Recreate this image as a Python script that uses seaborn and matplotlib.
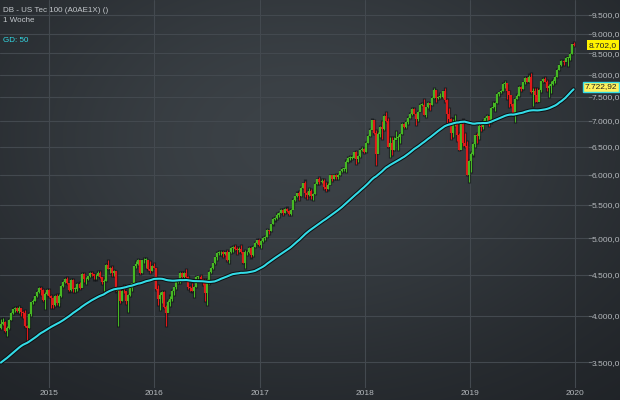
import numpy as np
import pandas as pd
import matplotlib
matplotlib.use("Agg")
import matplotlib.pyplot as plt
import matplotlib.dates as mdates
import matplotlib.ticker as mticker
import matplotlib.transforms as mtransforms
import matplotlib.patheffects as pe
import seaborn as sns

# ---------------- data (weekly candles) ----------------
title_text = "DB - US Tec 100 (A0AE1X) ()"
period_text = "1 Woche"
ma_text = "GD: 50"
first_week = "2014-07-18"
ma_window = 50
ma_last_label = 7722.92

# weekly closes before the visible window (feed the 50-week average)
pre_close = [3120, 3070, 3110, 3070, 3120, 3150, 3200, 3210, 3200, 3230, 3330, 3370,
             3360, 3370, 3420, 3420, 3480, 3480, 3440, 3530, 3590, 3560, 3580, 3600,
             3500, 3510, 3560, 3640, 3640, 3670, 3700, 3610, 3620, 3550, 3500, 3420,
             3550, 3520, 3560, 3520, 3600, 3640, 3720, 3780, 3750, 3810, 3820, 3880, 3860]

close_2014 = [3910, 3930, 3830, 3860, 3954, 4030, 4083, 4090, 4060, 4090, 4040, 4030,
              3880, 3860, 4020, 4158, 4180, 4230, 4280, 4337, 4310, 4190, 4260, 4310]
high_2014 = [3960, 3970, 3940, 3880, 3960, 4040, 4085, 4100, 4100, 4110, 4095, 4060,
             4070, 3900, 4030, 4160, 4200, 4240, 4300, 4345, 4350, 4320, 4280, 4320]
low_2014 = [3850, 3900, 3820, 3780, 3850, 3950, 4020, 4050, 4050, 4030, 4000, 3970,
            3870, 3700, 3860, 4000, 4140, 4170, 4220, 4270, 4250, 4170, 4080, 4250]

close_2015 = [4230, 4210, 4130, 4240, 4151, 4230, 4360, 4410, 4441, 4390, 4310, 4430, 4320,
              4320, 4380, 4330, 4510, 4440, 4450, 4480, 4530, 4509, 4480, 4490, 4530, 4470,
              4410, 4420, 4630, 4580, 4588, 4530, 4550, 4300, 4320, 4180, 4300, 4290, 4180,
              4250, 4330, 4390, 4610, 4648, 4700, 4520, 4690, 4700, 4700, 4580, 4550, 4620]
high_2015 = [4320, 4250, 4220, 4250, 4260, 4260, 4365, 4420, 4460, 4470, 4400, 4440, 4450,
             4350, 4390, 4410, 4520, 4520, 4470, 4490, 4540, 4540, 4510, 4510, 4550, 4550,
             4470, 4440, 4640, 4690, 4600, 4610, 4560, 4550, 4330, 4340, 4310, 4370, 4300,
             4260, 4360, 4400, 4620, 4680, 4710, 4700, 4700, 4720, 4720, 4700, 4680, 4630]
low_2015 = [4220, 4090, 4090, 4120, 4130, 4120, 4220, 4340, 4400, 4380, 4290, 4300, 4280,
            4280, 4300, 4320, 4340, 4410, 4380, 4430, 4470, 4490, 4440, 4440, 4480, 4460,
            4380, 4300, 4420, 4570, 4520, 4490, 4480, 4290, 3880, 4150, 4170, 4270, 4140,
            4050, 4230, 4300, 4370, 4590, 4630, 4510, 4520, 4660, 4590, 4560, 4520, 4550]

close_2016 = [4593, 4320, 4200, 4250, 4280, 4100, 4030, 4160, 4200, 4300, 4340, 4420, 4420,
              4530, 4470, 4520, 4470, 4341, 4330, 4300, 4350, 4470, 4470, 4440, 4400, 4270,
              4430, 4540, 4590, 4650, 4731, 4790, 4800, 4810, 4780, 4800, 4690, 4800, 4860,
              4875, 4850, 4830, 4850, 4800, 4660, 4800, 4800, 4860, 4760, 4880, 4930, 4970, 4900]
high_2016 = [4660, 4590, 4370, 4280, 4300, 4300, 4130, 4190, 4240, 4310, 4350, 4430, 4440,
             4540, 4540, 4540, 4580, 4480, 4360, 4390, 4360, 4480, 4490, 4500, 4440, 4440,
             4440, 4550, 4600, 4660, 4740, 4800, 4820, 4820, 4820, 4810, 4830, 4810, 4880,
             4890, 4900, 4880, 4870, 4900, 4800, 4830, 4820, 4870, 4870, 4890, 4940, 4980, 4990]
low_2016 = [4590, 4310, 4130, 4070, 4150, 4090, 3880, 4050, 4120, 4180, 4250, 4320, 4390,
            4400, 4450, 4450, 4450, 4320, 4300, 4290, 4220, 4340, 4440, 4420, 4370, 4180,
            4130, 4380, 4530, 4580, 4640, 4700, 4770, 4770, 4740, 4760, 4680, 4660, 4790,
            4810, 4830, 4780, 4800, 4790, 4650, 4590, 4760, 4790, 4730, 4750, 4870, 4920, 4890]

close_2017 = [4960, 5000, 5010, 5120, 5100, 5200, 5290, 5300, 5350, 5380, 5420, 5380, 5436,
              5410, 5360, 5420, 5583, 5640, 5690, 5650, 5780, 5850, 5700, 5660, 5730, 5647,
              5680, 5840, 5920, 5880, 5900, 5790, 5760, 5830, 5990, 5930, 5990, 5960, 6000,
              6060, 6100, 6100, 6230, 6300, 6300, 6300, 6400, 6280, 6330, 6440, 6460, 6397]
high_2017 = [4970, 5010, 5030, 5130, 5120, 5210, 5300, 5310, 5380, 5390, 5430, 5440, 5450,
             5460, 5420, 5430, 5600, 5650, 5700, 5720, 5790, 5860, 5900, 5720, 5770, 5760,
             5700, 5850, 5930, 5960, 5920, 5920, 5870, 5860, 6000, 5990, 6000, 6010, 6010,
             6070, 6110, 6120, 6250, 6320, 6330, 6330, 6410, 6420, 6340, 6450, 6490, 6470]
low_2017 = [4860, 4950, 4980, 5010, 5060, 5100, 5200, 5260, 5290, 5320, 5370, 5340, 5370,
            5390, 5350, 5340, 5450, 5570, 5630, 5580, 5650, 5780, 5620, 5600, 5650, 5600,
            5580, 5670, 5840, 5840, 5860, 5760, 5730, 5750, 5840, 5900, 5930, 5930, 5920,
            6000, 6050, 6060, 6040, 6230, 6250, 6270, 6290, 6180, 6220, 6320, 6430, 6390]

close_2018 = [6580, 6710, 6830, 7020, 6760, 6360, 6750, 6890, 6850, 7110, 7010, 6500, 6581,
              6450, 6630, 6670, 6680, 6750, 6940, 6890, 6990, 7070, 7140, 7240, 7150, 7040,
              7190, 7340, 7340, 7130, 7280, 7370, 7330, 7480, 7651, 7470, 7510, 7510, 7630,
              7440, 7140, 7040, 6770, 6930, 6990, 6730, 6450, 6950, 6570, 6520, 6000, 6240]
high_2018 = [6590, 6720, 6850, 7030, 7020, 6820, 6790, 6900, 7000, 7120, 7190, 7070, 6680,
             6680, 6690, 6800, 6720, 6770, 6960, 6960, 7000, 7090, 7170, 7260, 7270, 7170,
             7200, 7350, 7380, 7450, 7290, 7390, 7380, 7490, 7690, 7660, 7530, 7590, 7640,
             7700, 7450, 7260, 7060, 7050, 7120, 6970, 6760, 6960, 7030, 6760, 6600, 6260]
low_2018 = [6400, 6570, 6700, 6840, 6750, 6170, 6390, 6690, 6650, 6820, 6990, 6490, 6310,
            6350, 6440, 6640, 6440, 6570, 6750, 6860, 6860, 6950, 7070, 7120, 7140, 6930,
            7010, 7200, 7300, 7120, 7080, 7270, 7230, 7330, 7480, 7400, 7450, 7480, 7480,
            7400, 6920, 6980, 6640, 6680, 6900, 6610, 6440, 6460, 6520, 6490, 5990, 5880]

close_2019 = [6370, 6560, 6720, 6710, 6910, 6890, 7010, 7060, 7100, 6960, 7270, 7290, 7378,
              7570, 7600, 7640, 7780, 7800, 7640, 7540, 7360, 7127, 7460, 7530, 7720, 7671,
              7830, 7930, 7830, 7940, 7610, 7640, 7550, 7400, 7660, 7850, 7900, 7830, 7690,
              7740, 7780, 7860, 7950, 8110, 8220, 8320, 8300, 8400, 8400, 8490, 8730, 8702]
high_2019 = [6410, 6580, 6730, 6760, 6940, 6980, 7020, 7080, 7130, 7110, 7280, 7390, 7390,
             7580, 7610, 7650, 7800, 7850, 7760, 7630, 7530, 7380, 7470, 7570, 7740, 7730,
             7840, 7940, 7950, 8000, 8030, 7700, 7690, 7690, 7680, 7860, 7920, 7940, 7880,
             7780, 7850, 7900, 7960, 8120, 8230, 8330, 8340, 8420, 8420, 8510, 8740, 8780]
low_2019 = [6050, 6340, 6500, 6570, 6640, 6810, 6850, 6980, 7010, 6900, 6960, 7270, 7200,
            7370, 7520, 7580, 7640, 7700, 7450, 7280, 7310, 7120, 6980, 7450, 7530, 7630,
            7680, 7790, 7820, 7830, 7590, 7300, 7400, 7390, 7420, 7600, 7840, 7820, 7640,
            7500, 7580, 7760, 7810, 7950, 8100, 8200, 8220, 8310, 8200, 8340, 8490, 8690]

y_ticks = [3500, 4000, 4500, 5000, 5500, 6000, 6500, 7000, 7500, 8000, 8500, 9000, 9500]
x_tick_years = [2015, 2016, 2017, 2018, 2019, 2020]

# ---------------- assemble ----------------
close = np.array(close_2014 + close_2015 + close_2016 + close_2017 + close_2018 + close_2019, float)
high = np.array(high_2014 + high_2015 + high_2016 + high_2017 + high_2018 + high_2019, float)
low = np.array(low_2014 + low_2015 + low_2016 + low_2017 + low_2018 + low_2019, float)
opn = np.concatenate([[pre_close[-1]], close[:-1]])
dates = pd.date_range(first_week, periods=len(close), freq="W-FRI")
full = pd.Series(list(pre_close) + list(close), dtype=float)
ma = full.rolling(ma_window).mean().to_numpy()[len(pre_close):]
df = pd.DataFrame({"date": dates, "open": opn, "high": high, "low": low,
                   "close": close, "ma": ma})

GREEN = "#46b824"
RED = "#e01a1a"
CYAN = "#33dbe6"

def de_fmt(v, dec=1):
    s = f"{v:,.{dec}f}"
    return s.replace(",", "X").replace(".", ",").replace("X", ".")

# ---------------- figure ----------------
sns.set_theme(style="dark")
plt.rcParams["font.family"] = ["Liberation Sans", "DejaVu Sans"]

W, H = 620, 400
fig = plt.figure(figsize=(W / 100, H / 100), dpi=100)

# background gradient
bg = fig.add_axes([0, 0, 1, 1])
bg.set_axis_off()
yy, xx = np.mgrid[0:H, 0:W]
f = np.exp(-(((xx - 300) / 380.0) ** 2 + ((yy - 140) / 260.0) ** 2))
dark = np.array([26, 29, 33]) / 255
light = np.array([60, 66, 71]) / 255
img = dark[None, None, :] + (light - dark)[None, None, :] * f[:, :, None]
bg.imshow(img, aspect="auto", extent=[0, 1, 0, 1], origin="upper")
bg.set_xlim(0, 1)
bg.set_ylim(0, 1)

# main axes: pixel box x 0..588, y 0..388
ax = fig.add_axes([0, 12 / H, 588 / W, 388 / H])
ax.patch.set_alpha(0)
ax.set_yscale("log")
ax.set_ylim(3251, 9910)
x0 = pd.Timestamp("2015-01-01") - pd.Timedelta(days=170)
x1 = pd.Timestamp("2020-01-01") + pd.Timedelta(days=45)
ax.set_xlim(x0, x1)

for s in ax.spines.values():
    s.set_visible(False)

# grid
ax.yaxis.set_major_locator(mticker.FixedLocator(y_ticks))
ax.yaxis.set_minor_locator(mticker.NullLocator())
ax.yaxis.set_major_formatter(mticker.FuncFormatter(lambda v, p: de_fmt(v)))
ax.xaxis.set_major_locator(mticker.FixedLocator(
    [mdates.date2num(pd.Timestamp(f"{y}-01-01")) for y in x_tick_years]))
ax.xaxis.set_major_formatter(mticker.FuncFormatter(lambda v, p: str(mdates.num2date(v).year)))
ax.grid(True, which="major", color="#43494f", linewidth=0.8)
ax.set_axisbelow(True)
ax.yaxis.tick_right()
ax.tick_params(axis="y", which="major", length=3, width=0.8, color="#6a7075",
               pad=20, labelsize=6.0, labelcolor="#b4b8bc")
for lab in ax.get_yticklabels():
    lab.set_horizontalalignment("right")
ax.tick_params(axis="x", length=0, pad=1.5, labelsize=6.0, labelcolor="#b4b8bc")

# candles: dark outline, wick, body
up = (df["close"] >= df["open"]).to_numpy()
colors = [GREEN if u else RED for u in up]
body_lo = np.minimum(df["open"], df["close"]).to_numpy()
body_hi = np.maximum(df["open"], df["close"]).to_numpy()
body_hi = np.maximum(body_hi, body_lo * 1.002)
ax.vlines(df["date"], df["low"] * 0.997, df["high"] * 1.003, colors="#0d0f11",
          linewidth=2.3, zorder=2, alpha=0.6)
ax.vlines(df["date"], df["low"], df["high"], colors=colors, linewidth=0.8, zorder=3)
ax.vlines(df["date"], body_lo, body_hi, colors=colors, linewidth=1.6, zorder=4)

# moving average (seaborn)
sns.lineplot(data=df, x="date", y="ma", ax=ax, color=CYAN, linewidth=1.5, zorder=5,
             path_effects=[pe.Stroke(linewidth=2.9, foreground="#0c0e10"), pe.Normal()])
ax.set_xlabel("")
ax.set_ylabel("")

# price labels at right
trans = mtransforms.blended_transform_factory(ax.transAxes, ax.transData)
ax.text(617 / 588, df["close"].iloc[-1], de_fmt(df["close"].iloc[-1]), transform=trans,
        ha="right", va="center", fontsize=6.0, color="#222222", clip_on=False, zorder=10,
        bbox=dict(boxstyle="square,pad=0.2", fc="#fff200", ec="none"))
ax.text(617 / 588, ma_last_label, de_fmt(ma_last_label, 2), transform=trans,
        ha="right", va="center", fontsize=6.0, color="#222222", clip_on=False, zorder=10,
        bbox=dict(boxstyle="square,pad=0.2", fc="#fff25a", ec=CYAN, lw=1.0))

# header texts
fig.text(3 / W, 1 - 10 / H, title_text, ha="left", va="center", fontsize=5.8, color="#c4c8cc")
fig.text(3 / W, 1 - 20 / H, period_text, ha="left", va="center", fontsize=5.8, color="#c4c8cc")
fig.text(3 / W, 1 - 40 / H, ma_text, ha="left", va="center", fontsize=5.8, color=CYAN)

fig.savefig("out.png", dpi=100)
